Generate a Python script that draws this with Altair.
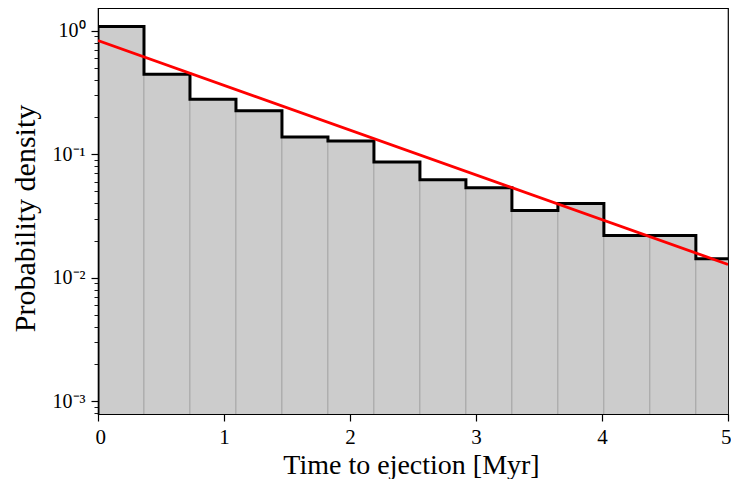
import altair as alt
import pandas as pd

# Histogram bin edges (Myr) and probability densities
bin_left = [0.0, 0.365, 0.73, 1.095, 1.46, 1.825, 2.19, 2.555, 2.92, 3.285, 3.65, 4.015, 4.38, 4.745]
bin_width = 0.365
density = [1.08, 0.445, 0.279, 0.225, 0.138, 0.128, 0.0863, 0.062, 0.0535, 0.035, 0.0398, 0.022, 0.022, 0.01426]

# Exponential fit line endpoints
fit_x = [0.0, 5.0]
fit_y = [0.832, 0.0128]

x_ticks = [0, 1, 2, 3, 4, 5]
y_min = 10 ** -3.104
y_max = 10 ** 0.184
tick_vals = []
for m in [1e-4, 1e-3, 1e-2, 1e-1]:
    for k in range(1, 10):
        v = m * k
        if y_min <= v <= y_max:
            tick_vals.append(v)
tick_vals.append(1.0)

bars = pd.DataFrame({
    "x": bin_left,
    "x2": [b + bin_width for b in bin_left],
    "y": density,
    "y0": [1e-6] * len(bin_left),
})

# step outline points (step-after)
step_x = [0.0] + bin_left + [bin_left[-1] + bin_width, bin_left[-1] + bin_width]
step_y = [1e-6] + density + [density[-1], 1e-6]
step = pd.DataFrame({"x": step_x, "y": step_y, "o": list(range(len(step_x)))})

fit = pd.DataFrame({"x": fit_x, "y": fit_y})

FONT = "Liberation Serif"
W, H = 630, 406
xscale = alt.Scale(domain=[0, 5], nice=False, zero=False)
yscale = alt.Scale(type="log", domain=[y_min, y_max], nice=False)

major_test = "abs(log(datum.value)/LN10 - round(log(datum.value)/LN10)) < 1e-6"

xaxis = alt.Axis(
    title="Time to ejection [Myr]", values=x_ticks, format="d",
    grid=False, tickSize=7, tickWidth=1.2, tickColor="black", domainColor="black",
    labelFont=FONT, labelFontSize=21, labelColor="black", labelPadding=5,
    labelFlush=True, labelFlushOffset=3,
    titleFont=FONT, titleFontSize=28, titleFontWeight="normal", titleColor="black",
    titleX=313, titleY=59, titleBaseline="alphabetic", titleAlign="center",
)
yaxis = alt.Axis(
    title="Probability density", values=tick_vals, grid=False,
    labelExpr=("!(" + major_test + ") ? '' : datum.value > 0.5 ? '10⁰' : datum.value > 0.05 ? '10⁻¹' : "
               "datum.value > 0.005 ? '10⁻²' : '10⁻³'"),
    labelOverlap=False,
    tickSize={"condition": {"test": major_test, "value": 7}, "value": 4},
    tickWidth={"condition": {"test": major_test, "value": 1.2}, "value": 0.9},
    tickColor="black", domainColor="black",
    labelFont=FONT, labelFontSize=20, labelColor="black", labelPadding=6,
    titleFont=FONT, titleFontSize=30, titleFontWeight="normal", titleColor="black",
    titleX=-73, titleY=210, titleAngle=270, titleBaseline="middle", titleAlign="center",
)

gray = alt.Chart(bars).mark_rect(
    color="#cccccc", stroke="#a0a0a0", strokeWidth=0.8, clip=True
).encode(
    x=alt.X("x:Q", scale=xscale, axis=xaxis),
    x2="x2:Q",
    y=alt.Y("y:Q", scale=yscale, axis=yaxis),
    y2="y0:Q",
)

outline = alt.Chart(step).mark_line(
    color="black", strokeWidth=3, interpolate="step-after", clip=True
).encode(
    x=alt.X("x:Q", scale=xscale),
    y=alt.Y("y:Q", scale=yscale),
    order="o:Q",
)

line = alt.Chart(fit).mark_line(color="#ff0000", strokeWidth=2.8, clip=True).encode(
    x=alt.X("x:Q", scale=xscale),
    y=alt.Y("y:Q", scale=yscale),
)

chart = alt.layer(gray, outline, line).properties(
    width=W, height=H,
    autosize=alt.AutoSizeParams(type="none"),
    padding={"left": 90, "top": 0, "right": 3, "bottom": 65},
).configure_view(stroke="black", strokeWidth=1.2)

chart.save("out.html", embed_options={"renderer": "svg", "actions": False})
